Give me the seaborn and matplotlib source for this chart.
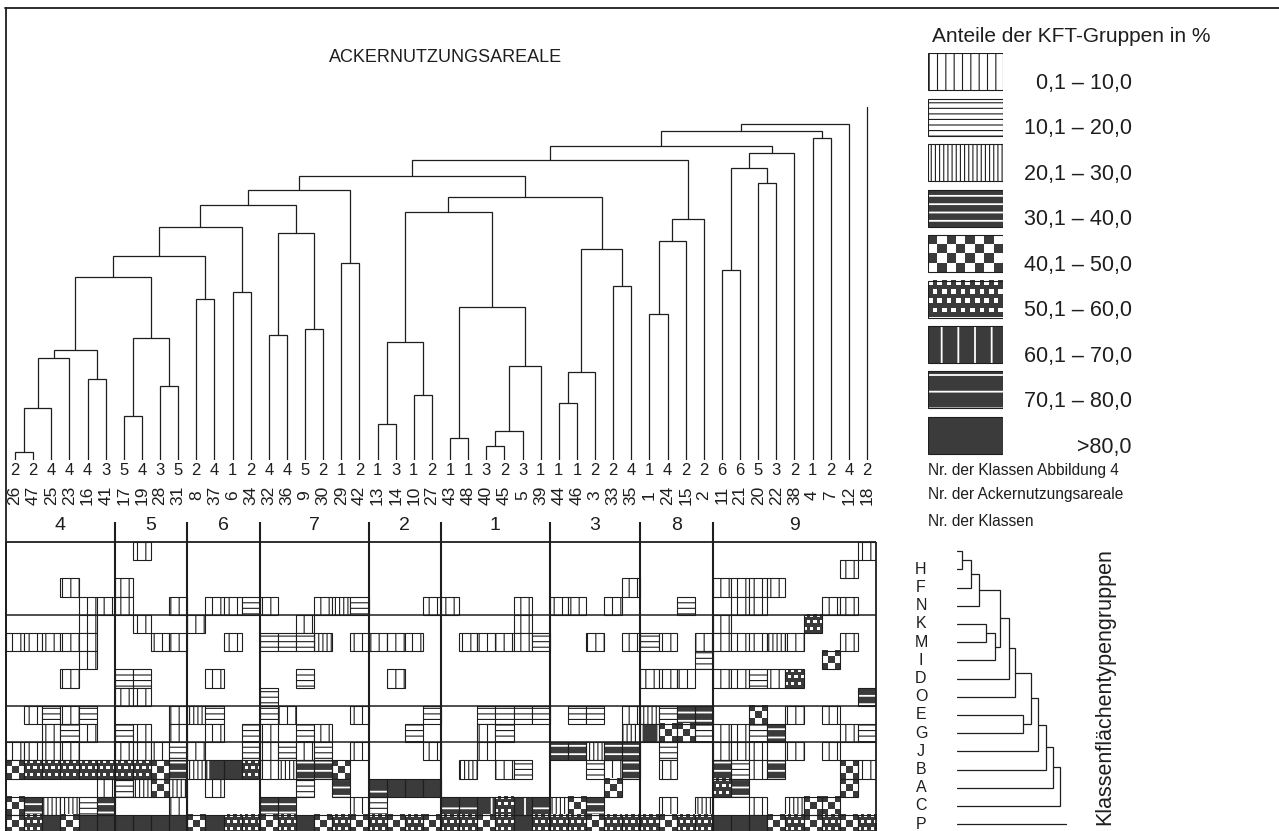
import numpy as np
import pandas as pd
import matplotlib
matplotlib.use("Agg")
import matplotlib.pyplot as plt
import seaborn as sns
from matplotlib.colors import ListedColormap
from matplotlib.lines import Line2D
from matplotlib.patches import Rectangle

# Ackernutzungsareale in der Reihenfolge der Dendrogramm-Blaetter
gruppen = ["4", "5", "6", "7", "2", "1", "3", "8", "9"]
gruppen_groesse = [6, 4, 4, 6, 4, 6, 5, 4, 9]
klasse_abb4 = [2, 2, 4, 4, 4, 3, 5, 4, 3, 5, 2, 4, 1, 2, 4, 4, 5, 2, 1, 2,
               1, 3, 1, 2, 1, 1, 3, 2, 3, 1, 1, 1, 2, 2, 4, 1, 4, 2, 2,
               6, 6, 5, 3, 2, 1, 2, 4, 2]
areal_nr = [26, 47, 25, 23, 16, 41, 17, 19, 28, 31, 8, 37, 6, 34,
            32, 36, 9, 30, 29, 42, 13, 14, 10, 27, 43, 48, 40, 45, 5, 39,
            44, 46, 3, 33, 35, 1, 24, 15, 2, 11, 21, 20, 22, 38, 4, 7, 12, 18]

# Verknuepfungen (links, rechts, Distanz), neue Knoten ab 48 fortlaufend
areal_links = [
    (0, 1, 8), (48, 2, 52), (49, 3, 102), (4, 5, 81), (50, 51, 110),
    (6, 7, 44), (8, 9, 74), (53, 54, 122), (52, 55, 183), (10, 11, 161),
    (56, 57, 204), (12, 13, 168), (58, 59, 233), (14, 15, 125), (16, 17, 131),
    (61, 62, 227), (60, 63, 255), (18, 19, 197), (64, 65, 270), (20, 21, 36),
    (22, 23, 65), (67, 68, 118), (24, 25, 22), (26, 27, 14), (71, 28, 29),
    (72, 29, 94), (70, 73, 153), (69, 74, 248), (30, 31, 57), (76, 32, 88),
    (33, 34, 174), (77, 78, 211), (75, 79, 263), (66, 80, 284), (35, 36, 146),
    (82, 37, 219), (83, 38, 241), (81, 84, 300), (39, 40, 190), (41, 42, 277),
    (86, 87, 292), (88, 43, 307), (85, 89, 314), (44, 45, 322), (90, 91, 329),
    (92, 46, 336),
]
areal_rest = (47, 353)

# Klassenflaechentypengruppen (Zeilen)
klassen = ["", "H", "F", "N", "K", "M", "I", "D", "O", "E", "G", "J", "B", "A", "C", "P"]
klassen_links = [
    (0, 1, 5), (16, 2, 14), (17, 3, 22), (4, 5, 29), (19, 6, 38), (18, 20, 43),
    (21, 7, 52), (22, 8, 58), (9, 10, 66), (23, 24, 74), (25, 11, 81),
    (26, 12, 89), (27, 13, 96), (28, 14, 103),
]
klassen_rest = (15, 109)

# Anteilsstufe je Klasse und Areal: 0 leer, 1..9 wie Legende
matrix_zeilen = [
    "000000 0100 0000 000000 0000 000000 00000 0000 000000001",
    "000000 0000 0000 000000 0000 000000 00000 0000 000000010",
    "000100 1000 0000 000000 0000 000000 00001 0000 111100000",
    "000011 1001 0112 100132 0001 100010 11010 0020 011000110",
    "000010 0100 1000 001000 0000 000010 00000 0000 100006000",
    "111110 0011 0010 222301 1110 011112 00101 2101 111310010",
    "000010 0000 0000 000000 0000 000000 00000 0002 000000500",
    "000100 2200 0100 002000 0100 000000 00000 1110 112160000",
    "000000 1100 0000 200000 0000 000000 00000 0000 000000004",
    "012120 0001 3200 210001 0002 002222 02201 3244 005010100",
    "001210 2101 0102 102100 0020 001200 00003 7552 112400012",
    "111100 1112 1002 121201 0001 001000 44344 0200 111010100",
    "566666 6654 3796 134450 0000 030120 00214 0100 421400051",
    "000001 2353 0100 002040 8999 000000 00050 0000 640000050",
    "543324 0001 0000 440001 2000 887678 35400 0103 001035500",
    "569599 9999 5966 569565 6565 665696 66566 6566 999565656",
]
trennzeilen = [4, 9, 11]

stufen = ["0,1 – 10,0", "10,1 – 20,0", "20,1 – 30,0", "30,1 – 40,0", "40,1 – 50,0",
          "50,1 – 60,0", "60,1 – 70,0", "70,1 – 80,0", ">80,0"]

INK = "#1e1e1e"
DARK = "#3b3b3b"
HATCH = {1: "||", 2: "---", 3: "||||", 4: "--", 7: "|", 8: "-"}

sns.set_theme(style="white")
plt.rcParams["font.family"] = ["Liberation Sans", "DejaVu Sans"]
plt.rcParams["hatch.linewidth"] = 0.8

W, H = 1279, 831
fig = plt.figure(figsize=(W / 100, H / 100), dpi=100)
fig.patch.set_facecolor("white")


def box(x0, y0, x1, y1):
    return [x0 / W, 1 - y1 / H, (x1 - x0) / W, (y1 - y0) / H]


def texture(code, nr, nc):
    i, j = np.indices((nr, nc))
    if code == 5:
        white = (i + j) % 2 == 1
    else:
        white = (i % 2 == 0) & ((j + i // 2) % 2 == 0)
    return np.where(white, 1.0, 0.23)


def add_rect(ax, x, y, w, h, hlw=None, **kw):
    p = Rectangle((x, y), w, h, **kw)
    if hlw is not None and hasattr(p, "set_hatch_linewidth"):
        p.set_hatch_linewidth(hlw)
    ax.add_patch(p)


def draw_cell(ax, x, y, w, h, code, grid5=(3, 3), grid6=(6, 6)):
    if code == 0:
        return
    if code in (1, 2, 3):
        add_rect(ax, x, y, w, h, hlw=0.8, facecolor="white", edgecolor=INK,
                 hatch=HATCH[code], lw=0.8, zorder=3)
        return
    if code in (4, 7, 8):
        add_rect(ax, x, y, w, h, hlw=1.3, facecolor=DARK, edgecolor="white",
                 hatch=HATCH[code], lw=0, zorder=3)
    elif code in (5, 6):
        nr, nc = grid5 if code == 5 else grid6
        ax.imshow(texture(code, nr, nc), cmap="gray", vmin=0, vmax=1,
                  extent=(x, x + w, y + h, y), aspect="auto",
                  interpolation="nearest", zorder=3)
    else:
        add_rect(ax, x, y, w, h, facecolor=DARK, lw=0, zorder=3)
    add_rect(ax, x, y, w, h, facecolor="none", edgecolor=INK, lw=0.8, zorder=4)


def dendro(n_leaves, links):
    pos = {i: i + 0.5 for i in range(n_leaves)}
    hgt = {i: 0.0 for i in range(n_leaves)}
    segs = []
    for k, (a, b, h) in enumerate(links):
        segs.append(([pos[a], pos[a], pos[b], pos[b]], [hgt[a], h, h, hgt[b]]))
        pos[n_leaves + k] = (pos[a] + pos[b]) / 2
        hgt[n_leaves + k] = h
    return segs


n_cols = len(areal_nr)
n_rows = len(klassen)
row_px = 18.2
m_top = 542
m_bot = m_top + n_rows * row_px

# --- Dendrogramm der Ackernutzungsareale ---
ax_d = fig.add_axes(box(6, 100, 876, 460))
ax_d.set_xlim(0, n_cols)
ax_d.set_ylim(0, 360)
ax_d.set_axis_off()
for xs, ys in dendro(n_cols, areal_links):
    ax_d.plot(xs, ys, color=INK, lw=0.9, solid_joinstyle="miter")
ax_d.plot([areal_rest[0] + 0.5] * 2, [0, areal_rest[1]], color=INK, lw=0.9)

for i, (k, a) in enumerate(zip(klasse_abb4, areal_nr)):
    ax_d.text(i + 0.5, -11, str(k), ha="center", va="center", fontsize=12, color=INK)
    ax_d.text(i + 0.5, -35, str(a), ha="center", va="center", rotation=90,
              fontsize=12.5, color=INK)

grenzen = np.cumsum(gruppen_groesse)
starts = grenzen - np.array(gruppen_groesse)
for g, s, e in zip(gruppen, starts, grenzen):
    ax_d.text((s + e) / 2, -66, g, ha="center", va="center", fontsize=14, color=INK)

fig.text(446 / W, 1 - 57 / H, "ACKERNUTZUNGSAREALE", ha="center", va="center",
         fontsize=13, color=INK)

# --- Matrix ---
codes = pd.DataFrame([[int(c) for c in z.replace(" ", "")] for z in matrix_zeilen],
                     index=klassen, columns=areal_nr)
dunkel = codes.isin([4, 6, 7, 8, 9]).astype(int)

ax_m = fig.add_axes(box(6, m_top, 876, m_bot))
sns.heatmap(dunkel, ax=ax_m, cmap=ListedColormap(["white", DARK]), vmin=0, vmax=1,
            cbar=False, xticklabels=False, yticklabels=False, linewidths=0)
for r in range(n_rows):
    for c in range(n_cols):
        draw_cell(ax_m, c, r, 1, 1, codes.iat[r, c])
ax_m.set_xlim(0, n_cols)
ax_m.set_ylim(n_rows, 0)
ax_m.hlines(trennzeilen, 0, n_cols, color=INK, lw=1.1, zorder=5)
ax_m.hlines([0], 0, n_cols, color=INK, lw=1.3, zorder=5, clip_on=False)
ax_m.vlines([0, n_cols], 0, n_rows, color=INK, lw=1.3, zorder=5, clip_on=False)
ax_m.vlines(grenzen[:-1], -20 / row_px, n_rows, color=INK, lw=1.5, zorder=5,
            clip_on=False)
for s in ax_m.spines.values():
    s.set_visible(False)

# --- Dendrogramm der Klassen ---
ax_r = fig.add_axes(box(957, m_top, 1077, m_bot))
ax_r.set_xlim(0, 120)
ax_r.set_ylim(n_rows, 0)
ax_r.set_axis_off()
for ys, xs in dendro(n_rows, klassen_links):
    ax_r.plot(xs, ys, color=INK, lw=0.9, solid_joinstyle="miter")
ax_r.plot([0, klassen_rest[1]], [klassen_rest[0] + 0.5] * 2, color=INK, lw=0.9)
for r, lab in enumerate(klassen):
    ax_r.text(-36, r + 0.5, lab, ha="center", va="center", fontsize=11.5, color=INK)

fig.text(1105 / W, 1 - 687 / H, "Klassenflächentypengruppen", rotation=90,
         ha="center", va="center", fontsize=15.5, color=INK)

# --- Legende ---
ax_l = fig.add_axes(box(928, 53, 1003, 53 + 9 * 45.5))
ax_l.set_axis_off()
for k, lab in enumerate(stufen):
    draw_cell(ax_l, 0, k, 1, 37 / 45.5, k + 1, grid5=(4, 8), grid6=(8, 16))
    ax_l.text(2.72, k + 0.66, lab, ha="right", va="center", fontsize=15.5, color=INK)
ax_l.set_xlim(0, 1)
ax_l.set_ylim(9, 0)

fig.text(932 / W, 1 - 36 / H, "Anteile der KFT-Gruppen in %", ha="left",
         va="center", fontsize=15, color=INK)
fig.text(928 / W, 1 - 470 / H, "Nr. der Klassen Abbildung 4", ha="left",
         va="center", fontsize=11.2, color=INK)
fig.text(928 / W, 1 - 495 / H, "Nr. der Ackernutzungsareale", ha="left",
         va="center", fontsize=11.2, color=INK)
fig.text(928 / W, 1 - 521 / H, "Nr. der Klassen", ha="left", va="center",
         fontsize=11.2, color=INK)

# Rahmen oben und links
fig.add_artist(Line2D([5 / W, 1], [1 - 8 / H] * 2, color=INK, lw=1.3))
fig.add_artist(Line2D([6 / W] * 2, [1 - 8 / H, 0], color=INK, lw=1.3))

fig.savefig("out.png", dpi=100, facecolor="white")
